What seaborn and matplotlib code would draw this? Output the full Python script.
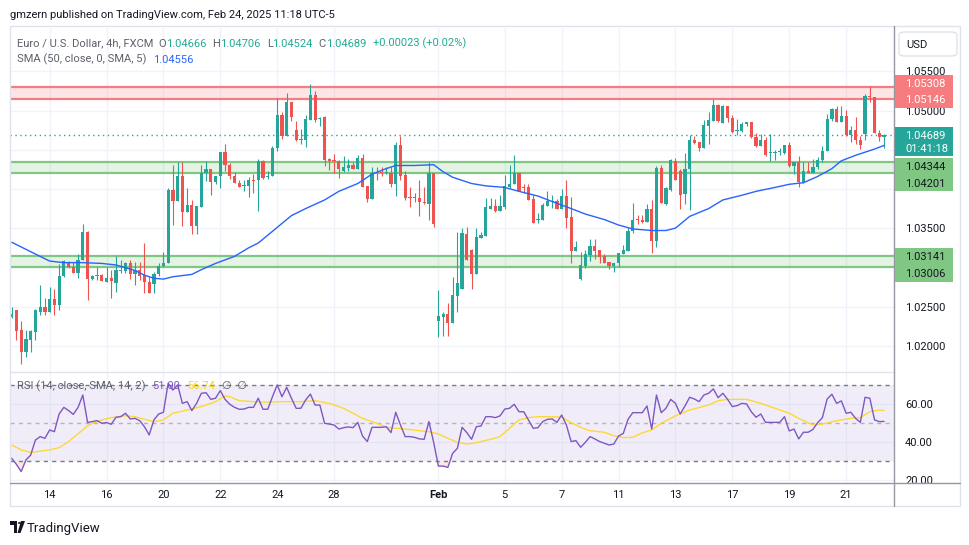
"""EUR/USD 4h candles with SMA(50), S/R zones and an RSI pane, TradingView look."""

import matplotlib

matplotlib.use("Agg")
import matplotlib.pyplot as plt          # noqa: E402
import numpy as np                       # noqa: E402
import seaborn as sns                    # noqa: E402
from matplotlib.lines import Line2D      # noqa: E402
from matplotlib.patches import Rectangle, FancyBboxPatch, Circle, Polygon  # noqa: E402

# ---------------------------------------------------------------------------
# Data (one entry per 4h bar, Jan 12 17:00 .. Feb 24 09:00)
# ---------------------------------------------------------------------------
opens = [
    1.0236, 1.0245, 1.0220, 1.0192, 1.0207, 1.0218, 1.0243, 1.0249, 1.0243, 1.0260,
    1.0252, 1.0289, 1.0307, 1.0300, 1.0293, 1.0309, 1.0345, 1.0285, 1.0289, 1.0290,
    1.0281, 1.0286, 1.0280, 1.0295, 1.0295, 1.0305, 1.0291, 1.0296, 1.0290, 1.0281,
    1.0279, 1.0291, 1.0302, 1.0306, 1.0399, 1.0385, 1.0417, 1.0370, 1.0380, 1.0353,
    1.0377, 1.0420, 1.0425, 1.0409, 1.0416, 1.0447, 1.0431, 1.0417, 1.0408, 1.0404,
    1.0404, 1.0412, 1.0411, 1.0436, 1.0415, 1.0416, 1.0452, 1.0494, 1.0468, 1.0511,
    1.0475, 1.0463, 1.0463, 1.0488, 1.0520, 1.0489, 1.0492, 1.0438, 1.0437, 1.0436,
    1.0423, 1.0427, 1.0431, 1.0426, 1.0440, 1.0404, 1.0387, 1.0422, 1.0421, 1.0420,
    1.0421, 1.0407, 1.0456, 1.0418, 1.0390, 1.0389, 1.0389, 1.0383, 1.0381, 1.0420,
    1.0232, 1.0237, 1.0240, 1.0229, 1.0264, 1.0272, 1.0343, 1.0322, 1.0291, 1.0338,
    1.0340, 1.0375, 1.0378, 1.0372, 1.0377, 1.0402, 1.0406, 1.0420, 1.0402, 1.0402,
    1.0387, 1.0360, 1.0360, 1.0378, 1.0384, 1.0385, 1.0374, 1.0391, 1.0364, 1.0321,
    1.0285, 1.0302, 1.0316, 1.0327, 1.0322, 1.0314, 1.0307, 1.0302, 1.0305, 1.0317,
    1.0321, 1.0346, 1.0361, 1.0361, 1.0358, 1.0374, 1.0333, 1.0427, 1.0381, 1.0399,
    1.0436, 1.0423, 1.0393, 1.0425, 1.0463, 1.0460, 1.0452, 1.0481, 1.0487, 1.0507,
    1.0484, 1.0506, 1.0490, 1.0474, 1.0474, 1.0483, 1.0485, 1.0466, 1.0455, 1.0463,
    1.0446, 1.0446, 1.0447, 1.0446, 1.0456, 1.0429, 1.0435, 1.0409, 1.0423, 1.0421,
    1.0428, 1.0437, 1.0448, 1.0489, 1.0502, 1.0486, 1.0493, 1.0469, 1.0475, 1.0463,
    1.0470, 1.0519, 1.0517, 1.0472, 1.04666,
]
highs = [
    1.0250, 1.0246, 1.0232, 1.0220, 1.0220, 1.0247, 1.0278, 1.0261, 1.0275, 1.0272,
    1.0304, 1.0309, 1.0308, 1.0307, 1.0317, 1.0355, 1.0346, 1.0290, 1.0300, 1.0291,
    1.0301, 1.0296, 1.0315, 1.0309, 1.0307, 1.0309, 1.0307, 1.0307, 1.0331, 1.0288,
    1.0294, 1.0305, 1.0319, 1.0401, 1.0431, 1.0435, 1.0435, 1.0401, 1.0386, 1.0378,
    1.0431, 1.0436, 1.0425, 1.0417, 1.0447, 1.0457, 1.0433, 1.0422, 1.0411, 1.0411,
    1.0415, 1.0419, 1.0438, 1.0437, 1.0423, 1.0455, 1.0516, 1.0498, 1.0522, 1.0511,
    1.0487, 1.0476, 1.0494, 1.0534, 1.0525, 1.0492, 1.0493, 1.0440, 1.0445, 1.0437,
    1.0442, 1.0438, 1.0435, 1.0443, 1.0445, 1.0404, 1.0428, 1.0428, 1.0428, 1.0428,
    1.0428, 1.0460, 1.0468, 1.0423, 1.0403, 1.0395, 1.0412, 1.0403, 1.0435, 1.0421,
    1.0271, 1.0243, 1.0255, 1.0288, 1.0345, 1.0350, 1.0352, 1.0324, 1.0350, 1.0345,
    1.0388, 1.0388, 1.0387, 1.0392, 1.0418, 1.0430, 1.0443, 1.0421, 1.0406, 1.0406,
    1.0392, 1.0369, 1.0382, 1.0397, 1.0392, 1.0387, 1.0400, 1.0411, 1.0390, 1.0334,
    1.0319, 1.0322, 1.0336, 1.0336, 1.0322, 1.0317, 1.0307, 1.0306, 1.0318, 1.0329,
    1.0352, 1.0382, 1.0367, 1.0367, 1.0381, 1.0386, 1.0429, 1.0431, 1.0403, 1.0438,
    1.0440, 1.0426, 1.0446, 1.0469, 1.0468, 1.0460, 1.0488, 1.0498, 1.0515, 1.0509,
    1.0507, 1.0506, 1.0495, 1.0489, 1.0486, 1.0486, 1.0486, 1.0472, 1.0470, 1.0467,
    1.0470, 1.0450, 1.0452, 1.0456, 1.0460, 1.0435, 1.0442, 1.0434, 1.0435, 1.0438,
    1.0441, 1.0455, 1.0496, 1.0504, 1.0506, 1.0506, 1.0501, 1.0480, 1.0492, 1.0468,
    1.0521, 1.0531, 1.0518, 1.0475, 1.04706,
]
lows = [
    1.0235, 1.0207, 1.0177, 1.0186, 1.0192, 1.0207, 1.0239, 1.0239, 1.0243, 1.0239,
    1.0245, 1.0288, 1.0299, 1.0293, 1.0287, 1.0309, 1.0258, 1.0284, 1.0284, 1.0282,
    1.0281, 1.0261, 1.0269, 1.0293, 1.0293, 1.0285, 1.0278, 1.0284, 1.0267, 1.0267,
    1.0267, 1.0289, 1.0301, 1.0306, 1.0354, 1.0385, 1.0353, 1.0370, 1.0343, 1.0343,
    1.0377, 1.0410, 1.0392, 1.0406, 1.0401, 1.0423, 1.0413, 1.0408, 1.0403, 1.0397,
    1.0390, 1.0395, 1.0372, 1.0413, 1.0413, 1.0416, 1.0448, 1.0464, 1.0468, 1.0487,
    1.0461, 1.0457, 1.0454, 1.0488, 1.0485, 1.0480, 1.0429, 1.0424, 1.0420, 1.0414,
    1.0422, 1.0423, 1.0426, 1.0426, 1.0402, 1.0383, 1.0387, 1.0412, 1.0417, 1.0419,
    1.0403, 1.0391, 1.0411, 1.0386, 1.0377, 1.0384, 1.0366, 1.0381, 1.0360, 1.0351,
    1.0211, 1.0212, 1.0212, 1.0229, 1.0243, 1.0272, 1.0309, 1.0272, 1.0291, 1.0338,
    1.0340, 1.0375, 1.0371, 1.0372, 1.0375, 1.0401, 1.0406, 1.0398, 1.0395, 1.0386,
    1.0357, 1.0357, 1.0360, 1.0378, 1.0376, 1.0374, 1.0374, 1.0350, 1.0306, 1.0321,
    1.0284, 1.0299, 1.0308, 1.0311, 1.0305, 1.0305, 1.0298, 1.0294, 1.0301, 1.0317,
    1.0321, 1.0344, 1.0355, 1.0357, 1.0358, 1.0318, 1.0326, 1.0382, 1.0380, 1.0398,
    1.0411, 1.0374, 1.0381, 1.0373, 1.0458, 1.0448, 1.0452, 1.0458, 1.0487, 1.0486,
    1.0484, 1.0486, 1.0472, 1.0469, 1.0473, 1.0480, 1.0465, 1.0453, 1.0455, 1.0442,
    1.0436, 1.0437, 1.0443, 1.0445, 1.0428, 1.0419, 1.0402, 1.0408, 1.0420, 1.0420,
    1.0426, 1.0435, 1.0448, 1.0487, 1.0485, 1.0485, 1.0468, 1.0460, 1.0458, 1.0451,
    1.0462, 1.0511, 1.0471, 1.0461, 1.04524,
]
closes = [
    1.0241, 1.0219, 1.0192, 1.0208, 1.0219, 1.0245, 1.0249, 1.0243, 1.0260, 1.0252,
    1.0289, 1.0308, 1.0300, 1.0293, 1.0309, 1.0345, 1.0285, 1.0289, 1.0290, 1.0282,
    1.0286, 1.0283, 1.0297, 1.0297, 1.0305, 1.0291, 1.0296, 1.0289, 1.0281, 1.0267,
    1.0292, 1.0302, 1.0306, 1.0399, 1.0385, 1.0417, 1.0370, 1.0380, 1.0353, 1.0378,
    1.0421, 1.0425, 1.0409, 1.0417, 1.0447, 1.0431, 1.0417, 1.0408, 1.0403, 1.0405,
    1.0411, 1.0410, 1.0436, 1.0414, 1.0416, 1.0452, 1.0494, 1.0468, 1.0511, 1.0492,
    1.0463, 1.0464, 1.0489, 1.0520, 1.0488, 1.0491, 1.0437, 1.0436, 1.0436, 1.0425,
    1.0428, 1.0431, 1.0426, 1.0440, 1.0403, 1.0387, 1.0421, 1.0421, 1.0420, 1.0422,
    1.0407, 1.0456, 1.0417, 1.0389, 1.0389, 1.0390, 1.0383, 1.0382, 1.0420, 1.0355,
    1.0238, 1.0240, 1.0229, 1.0265, 1.0280, 1.0344, 1.0309, 1.0291, 1.0339, 1.0341,
    1.0377, 1.0378, 1.0372, 1.0378, 1.0404, 1.0407, 1.0420, 1.0398, 1.0401, 1.0386,
    1.0357, 1.0361, 1.0380, 1.0385, 1.0385, 1.0374, 1.0391, 1.0363, 1.0321, 1.0326,
    1.0303, 1.0317, 1.0327, 1.0321, 1.0313, 1.0306, 1.0302, 1.0306, 1.0318, 1.0322,
    1.0346, 1.0361, 1.0360, 1.0358, 1.0374, 1.0333, 1.0427, 1.0382, 1.0401, 1.0437,
    1.0411, 1.0392, 1.0426, 1.0463, 1.0459, 1.0452, 1.0482, 1.0488, 1.0507, 1.0487,
    1.0506, 1.0490, 1.0473, 1.0475, 1.0483, 1.0485, 1.0466, 1.0455, 1.0463, 1.0443,
    1.0447, 1.0447, 1.0448, 1.0456, 1.0429, 1.0435, 1.0409, 1.0423, 1.0421, 1.0428,
    1.0437, 1.0449, 1.0489, 1.0502, 1.0485, 1.0493, 1.0469, 1.0475, 1.0463, 1.0456,
    1.0519, 1.0517, 1.0472, 1.0467, 1.04689,
]

# SMA(50) read at selected bars
sma_idx = [0, 2, 5, 8, 11, 15, 19, 22, 26, 28, 30, 32, 34, 38, 40, 43, 47, 50, 52, 55,
           57, 59, 62, 66, 69, 73, 76, 79, 81, 85, 89, 91, 93, 97, 100, 104, 107, 111,
           114, 118, 121, 125, 128, 131, 135, 138, 140, 143, 147, 150, 154, 157, 161,
           164, 167, 170, 173, 175, 178, 182, 184]
sma_val = [1.0332, 1.0326, 1.0317, 1.0308, 1.0306, 1.0306, 1.0305, 1.0303, 1.0296,
           1.0290, 1.0286, 1.0285, 1.0288, 1.0291, 1.0297, 1.0305, 1.0314, 1.0325,
           1.0331, 1.0346, 1.0356, 1.0366, 1.0375, 1.0386, 1.0397, 1.0407, 1.0419,
           1.0426, 1.0430, 1.0430, 1.0431, 1.0422, 1.0415, 1.0407, 1.0404, 1.0402,
           1.0397, 1.0391, 1.0384, 1.0375, 1.0368, 1.0361, 1.0354, 1.0349, 1.0347,
           1.0347, 1.0350, 1.0365, 1.0375, 1.0386, 1.0392, 1.0397, 1.0402, 1.0406,
           1.0408, 1.0416, 1.0426, 1.0436, 1.0443, 1.0451, 1.04556]

# RSI(14), one value per bar
rsi_val = [
    31.6, 28.4, 24.6, 30.7, 33.3, 41.2, 43.0, 42.1, 46.5, 45.6,
    54.9, 58.4, 56.7, 54.7, 58.4, 64.9, 50.5, 50.9, 51.4, 50.0,
    50.4, 49.5, 53.2, 53.5, 55.3, 52.3, 52.6, 51.4, 48.2, 43.9,
    51.8, 54.9, 55.8, 71.1, 67.5, 70.2, 60.5, 61.4, 56.7, 60.5,
    65.8, 66.1, 62.6, 63.2, 67.2, 62.6, 60.0, 58.4, 57.4, 57.5,
    58.4, 58.4, 63.2, 57.4, 57.4, 64.0, 70.2, 64.0, 68.9, 63.2,
    57.9, 57.9, 62.3, 65.4, 59.6, 59.6, 50.0, 49.6, 49.1, 47.0,
    47.7, 48.1, 47.7, 50.5, 43.3, 40.4, 47.9, 47.9, 47.9, 48.2,
    45.1, 55.8, 49.1, 43.0, 43.0, 42.6, 41.8, 41.6, 50.9, 40.0,
    27.5, 27.5, 26.8, 34.2, 36.8, 47.9, 45.1, 41.6, 48.2, 48.6,
    53.5, 53.5, 53.0, 53.9, 57.5, 57.9, 60.0, 56.1, 56.1, 51.8,
    47.4, 47.7, 50.9, 52.1, 52.3, 50.5, 54.4, 49.1, 40.4, 40.9,
    37.4, 40.0, 43.0, 41.8, 40.4, 39.5, 38.6, 39.1, 43.3, 44.7,
    52.1, 55.6, 55.6, 55.6, 59.1, 47.0, 64.9, 55.6, 57.9, 62.6,
    60.5, 54.9, 59.1, 63.7, 62.8, 61.4, 64.9, 65.8, 68.1, 63.5,
    65.8, 62.6, 58.8, 59.3, 60.5, 60.2, 56.1, 53.2, 54.9, 50.5,
    50.5, 50.5, 50.5, 53.5, 46.0, 47.0, 41.8, 45.3, 45.3, 46.8,
    50.4, 53.0, 62.8, 65.3, 60.5, 61.8, 55.3, 55.8, 52.6, 50.5,
    63.7, 63.2, 51.8, 50.9, 51.0,
]
# SMA(14) of RSI read at selected bars
rsi_ma_idx = [0, 2, 4, 8, 10, 12, 14, 16, 17, 19, 21, 24, 26, 28, 30, 32, 34, 37, 40,
              43, 45, 46, 48, 51, 54, 57, 61, 64, 67, 70, 72, 74, 77, 79, 81, 83, 86,
              88, 90, 92, 94, 96, 98, 101, 103, 105, 107, 109, 111, 114, 116, 118,
              120, 122, 125, 127, 129, 131, 133, 135, 137, 140, 143, 147, 149, 151,
              155, 158, 161, 164, 166, 169, 171, 174, 177, 179, 181, 183, 184]
rsi_ma_val = [38.6, 36.0, 34.7, 36.0, 37.2, 40.4, 44.5, 48.6, 50.0, 51.8, 53.0, 54.0,
              53.5, 52.1, 50.9, 51.8, 55.3, 57.0, 58.8, 61.4, 64.4, 64.0, 61.9, 61.4,
              61.1, 61.4, 61.4, 61.9, 60.5, 57.9, 55.3, 52.6, 50.0, 47.9, 47.4, 47.0,
              46.1, 45.6, 44.4, 42.1, 40.0, 39.1, 39.8, 41.6, 43.0, 47.4, 51.8, 53.0,
              53.5, 53.5, 53.2, 50.4, 47.9, 46.1, 45.3, 43.5, 42.5, 42.6, 45.0, 46.5,
              50.0, 53.9, 57.0, 59.6, 61.9, 62.6, 62.6, 60.5, 57.9, 55.3, 52.6, 49.1,
              49.6, 51.4, 52.6, 53.0, 56.1, 57.0, 56.74]

tick_bars = [8, 20, 32, 44, 56, 68, 90, 104, 116, 128, 140, 152, 164, 176]
tick_text = ["14", "16", "20", "22", "24", "28", "Feb", "5", "7", "11", "13", "17", "19", "21"]

price_ticks = [1.020, 1.025, 1.030, 1.035, 1.040, 1.045, 1.050, 1.055]
resistance_zone = (1.05146, 1.05308)
support_zones = [(1.04201, 1.04344), (1.03006, 1.03141)]
last_close = 1.04689
change_abs, change_pct = 0.00023, 0.02
countdown = "01:41:18"

UP, DOWN = "#26A69A", "#EF5350"
RED_LINE, GREEN_LINE = "#F77C80", "#81C784"
GRID, FRAME, INK = "#F0F3FA", "#E0E3EB", "#131722"

W, H = 970, 545


def px_rect(x0, y0, x1, y1):
    """Pixel box (top-left origin) -> figure-fraction rect."""
    return [x0 / W, 1 - y1 / H, (x1 - x0) / W, (y1 - y0) / H]


sns.set_theme(style="white")
plt.rcParams["font.family"] = ["Roboto", "DejaVu Sans"]

fig = plt.figure(figsize=(W / 100, H / 100), dpi=100)
fig.patch.set_facecolor("white")
ax = fig.add_axes(px_rect(10, 28, 894, 372))
rax = fig.add_axes(px_rect(10, 372, 894, 483), sharex=ax)

# ---------------------------------------------------------------------------
# Price pane
# ---------------------------------------------------------------------------
o, h, l, c = (np.asarray(v) for v in (opens, highs, lows, closes))
idx = np.arange(len(c))
colors = np.where(c >= o, UP, DOWN)

for t in tick_bars:
    ax.axvline(t, color=GRID, lw=1, zorder=0)
for p in price_ticks:
    ax.axhline(p, color=GRID, lw=1, zorder=0)

lo_z, hi_z = resistance_zone
ax.axhspan(lo_z, hi_z, color="#F7525F", alpha=0.15, lw=0, zorder=1)
for p in resistance_zone:
    ax.axhline(p, color=RED_LINE, lw=1.6, zorder=1.5)
for lo_z, hi_z in support_zones:
    ax.axhspan(lo_z, hi_z, color="#4CAF50", alpha=0.15, lw=0, zorder=1)
    for p in (lo_z, hi_z):
        ax.axhline(p, color=GREEN_LINE, lw=1.6, zorder=1.5)

ax.axhline(last_close, color=UP, lw=1, ls=(0, (1, 2.5)), zorder=2)

ax.vlines(idx, l, h, colors=colors, lw=0.8, zorder=3)
body = np.maximum(np.abs(c - o), 0.00012)
ax.bar(idx, body, bottom=np.minimum(o, c), width=0.68, color=colors, lw=0, zorder=4)

sns.lineplot(x=sma_idx, y=sma_val, ax=ax, color="#2962FF", linewidth=1, zorder=5)

ax.set_xlim(-0.36, 186.1)
ax.set_ylim(1.01664, 1.06055)
ax.yaxis.tick_right()
ax.tick_params(axis="y", length=0, pad=8, labelsize=8, labelcolor=INK)
ax.tick_params(axis="x", length=0, labelbottom=False)
ax.set_xlabel(""); ax.set_ylabel("")
for s in ax.spines.values():
    s.set_visible(False)

# ---------------------------------------------------------------------------
# RSI pane
# ---------------------------------------------------------------------------
for t in tick_bars:
    rax.axvline(t, color=GRID, lw=1, zorder=0)
for lvl in (20, 40, 60):
    rax.axhline(lvl, color=GRID, lw=1, zorder=0)
rax.axhspan(30, 70, color="#7E57C2", alpha=0.1, lw=0, zorder=1)
rax.axhline(70, color="#787B86", lw=1, ls=(0, (3, 3)), zorder=2)
rax.axhline(50, color="#787B86", lw=1, ls=(0, (3, 3)), alpha=0.5, zorder=2)
rax.axhline(30, color="#787B86", lw=1, ls=(0, (3, 3)), zorder=2)
rsi = np.asarray(rsi_val)
rax.fill_between(idx, rsi, 30, where=rsi < 30, interpolate=True,
                 color="#F23645", alpha=0.12, lw=0, zorder=1.5)

sns.lineplot(x=idx, y=rsi, ax=rax, color="#7E57C2", linewidth=1, zorder=4)
sns.lineplot(x=rsi_ma_idx, y=rsi_ma_val, ax=rax, color="#FDD835", linewidth=1, zorder=3)

rax.set_ylim(18.6, 77.0)
rax.yaxis.tick_right()
rax.set_yticks([20, 40, 60])
rax.set_yticklabels(["20.00", "40.00", "60.00"])
rax.tick_params(axis="y", length=0, pad=8, labelsize=8, labelcolor=INK)
rax.set_xticks(tick_bars)
rax.set_xticklabels(tick_text)
rax.tick_params(axis="x", length=0, pad=5, labelsize=8, labelcolor=INK)
rax.get_xticklabels()[tick_text.index("Feb")].set_fontweight("bold")
rax.set_xlabel(""); rax.set_ylabel("")
for s in rax.spines.values():
    s.set_visible(False)

# ---------------------------------------------------------------------------
# Frame, separators
# ---------------------------------------------------------------------------
fig.add_artist(Rectangle((10 / W, 1 - 506 / H), 950 / W, 480 / H, transform=fig.transFigure,
                         fill=False, ec=FRAME, lw=1))
fig.add_artist(Line2D([10 / W, 894 / W], [1 - 372 / H] * 2, color=FRAME, lw=1))
fig.add_artist(Line2D([894 / W] * 2, [1 - 26 / H, 1 - 506 / H], color="#9598A1", lw=1))
fig.add_artist(Line2D([10 / W, 960 / W], [1 - 483 / H] * 2, color="#9598A1", lw=1))

# ---------------------------------------------------------------------------
# Price-scale labels (boxes cover the regular tick labels they sit on)
# ---------------------------------------------------------------------------
BOX_H = 16.6


def price_px(p):
    return ax.transData.transform((0, p))[1]   # display px, origin bottom


spans = []


def scale_box(yc, height, fc):
    spans.append((yc - height / 2, yc + height / 2))
    fig.add_artist(Rectangle((895 / W, (yc - height / 2) / H), 58 / W, height / H,
                             transform=fig.transFigure, fc=fc, ec="none", zorder=5))


box_labels = [  # price, face, text colour, nudge in px (positive = up)
    (resistance_zone[1], RED_LINE, "white", 3.5),
    (resistance_zone[0], RED_LINE, "white", 0.0),
    (support_zones[0][1], GREEN_LINE, INK, -4.0),
    (support_zones[0][0], GREEN_LINE, INK, -9.5),
    (support_zones[1][1], GREEN_LINE, INK, 0.0),
    (support_zones[1][0], GREEN_LINE, INK, -6.4),
]
for p, fc, tc, nudge in box_labels:
    yc = price_px(p) + nudge
    scale_box(yc, BOX_H, fc)
    fig.text(905 / W, yc / H, f"{p:.5f}", color=tc, fontsize=8, ha="left",
             va="center_baseline", zorder=6)

yl = price_px(last_close)
scale_box(yl - 6.4, 29.3, UP)
fig.text(905 / W, yl / H, f"{last_close:.5f}", color="white", fontsize=8,
         ha="left", va="center_baseline", zorder=6)
fig.text(905 / W, (yl - 13.3) / H, countdown, color="white", fontsize=8,
         ha="left", va="center_baseline", zorder=6)

# price ticks hidden under a label box get no text, as on the original scale
ax.set_yticks(price_ticks)
ax.set_yticklabels(["" if any(a <= price_px(p) <= b for a, b in spans) else f"{p:.5f}"
                    for p in price_ticks])

fig.add_artist(FancyBboxPatch((899 / W, 1 - 56 / H), 58 / W, 24 / H,
                              boxstyle="round,pad=0,rounding_size=0.006",
                              transform=fig.transFigure, fc="white", ec=FRAME, lw=1))
fig.text(906 / W, 1 - 48 / H, "USD", fontsize=8, color=INK, ha="left", va="baseline")

# ---------------------------------------------------------------------------
# Header, legends, logo
# ---------------------------------------------------------------------------
renderer = fig.canvas.get_renderer()


def chain(x, y, pieces, size=8):
    """Place text pieces one after the other on a common baseline (pixel coords)."""
    for text, color, gap in pieces:
        x += gap
        t = fig.text(x / W, 1 - y / H, text, color=color, fontsize=size,
                     ha="left", va="baseline", zorder=6)
        x += t.get_window_extent(renderer).width


fig.text(10 / W, 1 - 18.3 / H, "gmzern published on TradingView.com, Feb 24, 2025 11:18 UTC-5",
         fontsize=8, color=INK, ha="left", va="baseline")

GREY, TEAL = "#5D606B", "#22AB94"
chain(17, 46.7, [
    ("Euro / U.S. Dollar, 4h, FXCM", GREY, 0),
    ("O", GREY, 5), (f"{opens[-1]:.5f}", TEAL, 0),
    ("H", GREY, 6), (f"{highs[-1]:.5f}", TEAL, 0),
    ("L", GREY, 6), (f"{lows[-1]:.5f}", TEAL, 0),
    ("C", GREY, 6), (f"{closes[-1]:.5f}", TEAL, 0),
    (f"{change_abs:+.5f} ({change_pct:+.2f}%)", TEAL, 7),
])
chain(17, 62.7, [
    ("SMA (50, close, 0, SMA, 5)", GREY, 0),
    (f"{sma_val[-1]:.5f}", "#2962FF", 7),
])
chain(17, 389, [
    ("RSI (14, close, SMA, 14, 2)", GREY, 0),
    (f"{rsi_val[-1]:.2f}", "#7E57C2", 7),
    (f"{rsi_ma_val[-1]:.2f}", "#F5D423", 7),
    ("\u2205  \u2205", GREY, 7),
])

# TradingView logo mark + word
fig.add_artist(Rectangle((10 / W, 1 - 524.5 / H), 7.5 / W, 3.5 / H, transform=fig.transFigure,
                         fc=INK, ec="none"))
fig.add_artist(Rectangle((13.5 / W, 1 - 533 / H), 3.5 / W, 12 / H, transform=fig.transFigure,
                         fc=INK, ec="none"))
fig.add_artist(Circle((19.5 / W, 1 - 523 / H), 1.6 / W, transform=fig.transFigure,
                      fc=INK, ec="none"))
fig.add_artist(Polygon([(21 / W, 1 - 521 / H), (25 / W, 1 - 521 / H), (20.5 / W, 1 - 533 / H),
                        (17.5 / W, 1 - 533 / H)], closed=True, transform=fig.transFigure,
                       fc=INK, ec="none"))
fig.text(27 / W, 1 - 532 / H, "TradingView", fontsize=9.5, color=INK, ha="left", va="baseline")

fig.savefig("out.png", dpi=100)
plt.close(fig)
